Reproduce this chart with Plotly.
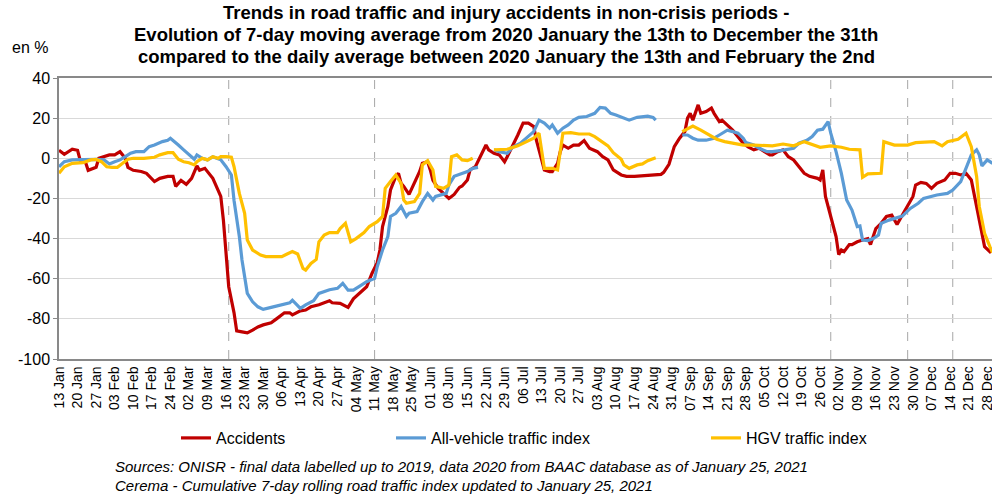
import pandas as pd
import plotly.graph_objects as go

START = pd.Timestamp("2020-01-13")

# days counted from 13 Jan 2020, values in % vs the 13 Jan - 2 Feb daily average
acc_days = [
    0, 2, 5, 7, 8, 10, 11, 14, 15, 17, 19, 21, 23, 25, 26, 28, 31, 33, 36, 38,
    41, 43, 44, 46, 48, 50, 52, 53, 55, 58, 59, 61, 62, 63, 64, 66, 67, 69, 71, 73,
    75, 77, 80, 82, 85, 87, 88, 91, 93, 95, 98, 102, 103, 106, 109, 111, 114, 116, 118, 120,
    121, 122, 124, 125, 127, 128, 129, 130, 132, 134, 136, 137, 139, 140, 141, 143, 145, 147, 148, 149,
    151, 152, 154, 155, 157, 159, 161, 162, 164, 166, 168, 169, 171, 173, 175, 177, 179, 180, 182, 183,
    185, 186, 188, 189, 190, 192, 194, 196, 198, 200, 203, 205, 207, 209, 212, 214, 217, 219, 222, 224,
    226, 227, 228, 230, 232, 234, 236, 237, 238, 239, 241, 242, 244, 246, 247, 249, 250, 252, 254, 256,
    258, 260, 262, 264, 266, 268, 269, 271, 273, 275, 277, 279, 281, 283, 286, 287, 288, 289, 290, 291,
    293, 294, 295, 296, 298, 299, 301, 303, 305, 306, 308, 310, 312, 314, 316, 318, 320, 322, 323, 325,
    327, 329, 331, 334, 336, 338, 340, 342, 344, 346, 347, 349, 351, 352,
]
acc_values = [
    4, 2, 4.5, 4, -1, -2, -6, -4.5, 0, 1, 1.7, 1.7, 3.3, 0, -4.5, -6, -6.6, -7.5, -11.6, -10,
    -9, -9, -14, -11, -13, -10, -3.8, -6, -5, -10, -13, -19, -31, -47, -64, -77, -86, -86.5, -87, -85.6,
    -84, -83, -82, -80, -77, -77, -78, -76, -75.6, -74, -73, -71, -72, -72.3, -74.3, -70, -66.5, -64, -57.4, -52,
    -45.7, -34, -24, -15.8, -9, -7.5, -12.5, -14, -18, -12.5, -6.6, -2.5, -1.7, -5.8, -11, -15, -17.5, -20, -19, -18,
    -14.5, -13.8, -10.8, -5.8, -4.2, 0.8, 6.6, 4.2, 2.5, 1.7, -1.7, 0.8, 5.8, 11.6, 17.5, 17.5, 15.8, 9, -0.8, -5.8,
    -6.6, -6.6, -2.5, 3.3, 6.6, 5, 6.6, 6.6, 8.8, 5, 3.3, 0.8, -0.8, -5.8, -8.3, -9, -9, -8.8, -8.3, -8.3,
    -8.3, -8, -7, -3, 5.8, 10, 13.3, 20, 22.4, 19, 26.6, 22.4, 23.3, 25, 22.4, 18.3, 19, 16.6, 14, 10.8,
    7.5, 5.5, 4.2, 5, 3.3, 1.7, 1.7, 3.3, 4.2, 0.8, -0.8, -4.2, -7.5, -9, -10, -10.8, -5.8, -19, -24, -29,
    -39, -48, -45.7, -46.5, -43, -43, -41.6, -40.7, -40, -43, -35, -32.4, -29, -28.3, -33, -28.3, -24, -19, -13.3, -12,
    -12.5, -15, -12.5, -10.8, -7.5, -7.5, -8.3, -7.5, -10.8, -24, -30.8, -44, -46.5, -45,
]

veh_days = [
    0, 2, 5, 10, 14, 17, 19, 21, 23, 25, 27, 29, 32, 34, 36, 39, 41, 42, 43, 45,
    47, 49, 51, 52, 54, 56, 58, 61, 63, 65, 66, 68, 69, 71, 73, 75, 77, 80, 82, 85,
    87, 88, 91, 93, 96, 98, 100, 102, 105, 107, 109, 111, 114, 116, 119, 120, 122, 124, 125, 127,
    129, 131, 132, 135, 137, 139, 141, 142, 146, 147, 149, 152, 154, 156, 158, 160, 164, 166, 169, 171,
    174, 176, 179, 181, 183, 185, 186, 188, 190, 192, 194, 196, 199, 202, 204, 206, 208, 210, 213, 215,
    218, 220, 222, 224, 225, 230, 235, 237, 239, 241, 244, 247, 249, 252, 254, 256, 258, 259, 262, 264,
    267, 269, 272, 274, 277, 279, 282, 284, 286, 288, 290, 291, 293, 295, 297, 299, 301, 302, 303, 305,
    307, 309, 310, 313, 315, 318, 321, 324, 326, 329, 331, 335, 337, 340, 342, 344, 346, 347, 348, 350,
    352,
]
veh_values = [
    -4.2, -1.7, -0.8, -0.5, -0.5, -0.8, -2.8, -1.7, -0.8, 0.8, 2.5, 3.3, 3.3, 5.8, 6.6, 8.3, 9, 10, 9, 6.6,
    4.2, 1.7, -0.5, 1.7, 0, -0.8, 0.8, -0.8, -4.2, -8.3, -21, -39, -50.7, -67.3, -71.5, -74, -75.3, -74.3, -73.6, -72.3,
    -72, -70.7, -74.8, -73, -71, -67.3, -66.5, -65.5, -64.8, -62.3, -65.7, -65.7, -63.2, -61.5, -59.8, -54, -45.7, -39, -29, -27.4,
    -24, -29, -27.4, -26.6, -21.6, -17.5, -20.8, -19, -17.5, -13.3, -9, -7.5, -6.6, -5, -4.5, None, 4.2, 3.3, 2.5, 5.5,
    7.5, 10, 13.3, 19, 17.5, 15, 16.6, 12.5, 15, 16.6, 19, 20.4, 20.8, 22.4, 25.3, 25, 22.4, 21.6, 20, 19,
    20.4, 20.8, 21, 20.4, 19, None, 11.6, 11.6, 10, 9, 9, 10, 11.6, 14, 13.3, 12.5, 10, 7.8, 6.6, 5,
    3.3, 3.3, 3.8, 4.2, 5, 7.5, 9, 10.8, 14, 14.5, 18.3, 12.5, 3.3, -7.5, -20.8, -25.8, -34, -33.7, -40.7, -41,
    -40, -38.2, -32.4, -30.8, -30, -28.8, -25, -22.4, -20, -19, -18.3, -17.5, -15.8, -11.6, -5, 1.7, 4.2, 1.7, -3.8, -0.8,
    -2.5,
]

hgv_days = [
    0, 2, 5, 9, 12, 14, 16, 18, 20, 22, 24, 26, 28, 32, 36, 38, 41, 43, 45, 47,
    49, 51, 52, 54, 56, 58, 60, 61, 63, 65, 66, 68, 70, 71, 73, 76, 78, 81, 84, 86,
    88, 90, 92, 93, 95, 97, 98, 100, 102, 105, 106, 108, 110, 112, 115, 117, 120, 122, 123, 125,
    127, 129, 130, 131, 134, 136, 137, 139, 141, 142, 145, 147, 148, 150, 152, 154, 156, 160, 164, 169,
    173, 176, 179, 181, 182, 183, 186, 188, 190, 193, 196, 200, 202, 204, 207, 209, 212, 213, 215, 218,
    220, 222, 224, 225, 230, 235, 237, 239, 242, 245, 248, 251, 254, 258, 262, 266, 269, 273, 277, 281,
    284, 287, 291, 295, 298, 302, 303, 305, 310, 311, 315, 320, 323, 327, 330, 333, 335, 339, 340, 342,
    344, 346, 347, 349, 351, 352,
]
hgv_values = [
    -7.5, -4.2, -2.5, -2.2, -0.8, -0.5, -1.7, -4.2, -4.5, -4.5, -2.5, -0.5, 0, 0, 0.5, 1.7, 2.8, 2.8, -0.5, -1.7,
    -2.2, -3.3, -1.7, 0, -0.8, 0.8, 0, 0.8, 0.8, 0.5, -4.2, -17.5, -27.4, -40.7, -45.7, -48.2, -49, -49, -49, -47.7,
    -46.5, -47.7, -54.9, -55.7, -52.4, -50.4, -41.6, -38.2, -37, -37, -35, -32.4, -41.6, -40, -37, -34, -31.6, -29, -15, -11.6,
    -8.3, -12.5, -20.8, -22.4, -21.6, -17.5, -3.3, -1.2, -5.8, -14, -15, -13.3, 0.8, 1.7, -0.8, -1.2, 0, None, 4.2, 4.5,
    6.2, 8.3, 10, 12.5, 4.2, -5, -5, -5.8, 12.5, 12.8, 12.1, 12.1, 10.8, 9, 6.2, 2.8, -0.5, -3.3, -5, -3.3,
    -2.8, -1.2, 0, 0.3, None, 13.3, 14.5, 16.1, 14, 11.6, 9.5, 8.3, 7.5, 6.6, 6.6, 6.2, 6.2, 7.1, 6.2, 8.3,
    7.1, 5.5, 6.2, 5.5, 4.5, 4.2, -9.5, -7.8, -7.5, 8.3, 6.6, 6.6, 7.8, 8.3, 8.3, 6.2, 8.3, 9.5, 10.5, 12.5,
    5.8, -9, -24, -37.4, -44, -47,
]

phase_dates = ["2020-03-17", "2020-05-11", "2020-10-30", "2020-11-28", "2020-12-15"]

y_ticks = [-100, -80, -60, -40, -20, 0, 20, 40]
y_labels = ["-100", "-80", "-60", "-40", "-20", "0", "20", "40"]

title_lines = [
    "Trends in road traffic and injury accidents in non-crisis periods -",
    "Evolution of 7-day moving average from 2020 January the 13th to December the 31th",
    "compared to the daily average between 2020 January the 13th and February the 2nd",
]
sources = [
    "Sources: ONISR - final data labelled up to 2019, data 2020 from BAAC database as of January 25, 2021",
    "Cerema - Cumulative 7-day rolling road traffic index updated to January 25, 2021",
]

FONT = "Liberation Sans, Arial, sans-serif"
AXIS_GREY = "#898989"
WEEK_MS = 7 * 24 * 3600 * 1000

# plot area in pixels: x 59..992, y 78..359
L, T, B = 59, 78, 359
PW, PH = 992 - L, B - T


def to_dates(days):
    return START + pd.to_timedelta(days, unit="D")


def px_x(x):
    return (x - L) / PW


def px_y(y):
    return (B - y) / PH


series = [
    ("Accidents", acc_days, acc_values, "#C00000", "legend", 177),
    ("All-vehicle traffic index", veh_days, veh_values, "#5B9BD5", "legend2", 392),
    ("HGV traffic index", hgv_days, hgv_values, "#FFC000", "legend3", 707),
]

fig = go.Figure()
legends = {}
for name, days, values, color, legend, lx in series:
    fig.add_trace(
        go.Scatter(
            x=to_dates(days),
            y=values,
            name=name,
            mode="lines",
            line={"color": color, "width": 3.2},
            connectgaps=False,
            legend=legend,
            hovertemplate="%{x|%d %b}: %{y:.1f}%<extra>" + name + "</extra>",
        )
    )
    legends[legend] = dict(
        x=px_x(lx - 1), y=px_y(438), xanchor="left", yanchor="middle",
        orientation="h", font={"size": 16}, bgcolor="rgba(0,0,0,0)",
    )

for d in phase_dates:
    fig.add_shape(
        type="line", xref="x", yref="paper", x0=d, x1=d, y0=0, y1=1,
        line={"color": "#A6A6A6", "width": 1, "dash": "dash"}, layer="below",
    )

x_end = START + pd.Timedelta(days=351.8)
date_axis = dict(
    type="date",
    range=[START, x_end],
    tick0=START,
    dtick=WEEK_MS,
    automargin=False,
)

fig.update_layout(
    width=992,
    height=497,
    margin={"l": L, "r": 0, "t": T, "b": 497 - B},
    paper_bgcolor="white",
    plot_bgcolor="white",
    font={"family": FONT, "color": "black"},
    xaxis=dict(
        date_axis,
        tickformat="%d %b",
        tickangle=-90,
        tickfont={"size": 14},
        ticklabeloverflow="allow",
        showgrid=False,
        showline=True,
        linecolor=AXIS_GREY,
        linewidth=1.5,
        mirror=True,
        ticks="",
    ),
    xaxis2=dict(
        date_axis,
        overlaying="x",
        anchor="free",
        position=100 / 140,
        showticklabels=False,
        showgrid=False,
        showline=True,
        linecolor="#808080",
        linewidth=2,
        ticks="outside",
        ticklen=4,
        tickwidth=2,
        tickcolor="#808080",
        layer="below traces",
    ),
    xaxis3=dict(
        date_axis,
        overlaying="x",
        anchor="free",
        position=100 / 140,
        showticklabels=False,
        showgrid=False,
        showline=False,
        ticks="inside",
        ticklen=4,
        tickwidth=2,
        tickcolor="#808080",
        layer="below traces",
    ),
    yaxis=dict(
        range=[-100, 40],
        tickvals=y_ticks,
        ticktext=y_labels,
        tickfont={"size": 16},
        showgrid=True,
        gridcolor="#D9D9D9",
        gridwidth=1,
        zeroline=False,
        showline=True,
        linecolor=AXIS_GREY,
        linewidth=1.5,
        ticks="outside",
        ticklen=4,
        tickcolor=AXIS_GREY,
        automargin=False,
    ),
    showlegend=True,
    **legends,
)

for i, line in enumerate(title_lines):
    fig.add_annotation(
        text="<b>" + line + "</b>", xref="paper", yref="paper",
        x=px_x(506), y=px_y(13 + 22 * i), xanchor="center", yanchor="middle",
        showarrow=False, font={"size": 18.5},
    )

fig.add_annotation(
    text="en %", xref="paper", yref="paper", x=px_x(10), y=px_y(47),
    xanchor="left", yanchor="middle", showarrow=False, font={"size": 16},
)
for i, line in enumerate(sources):
    fig.add_annotation(
        text="<i>" + line + "</i>", xref="paper", yref="paper",
        x=px_x(113), y=px_y(466 + 19 * i),
        xanchor="left", yanchor="middle", showarrow=False, font={"size": 15},
    )

fig.write_html(
    "out.html",
    config={"displayModeBar": False},
    post_script="document.body.style.margin = '0';",
)
